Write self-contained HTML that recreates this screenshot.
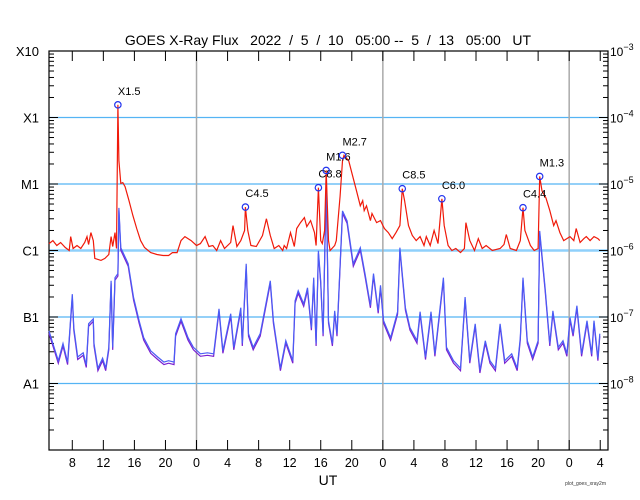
<!DOCTYPE html>
<html><head><meta charset="utf-8"><style>
body{margin:0;background:#fff;}
svg{display:block;font-family:"Liberation Sans",sans-serif;}
</style></head><body>
<svg id="chart" width="640" height="500" viewBox="0 0 640 500" xmlns="http://www.w3.org/2000/svg">
<text x="328" y="45" font-size="14" text-anchor="middle" fill="#000" xml:space="preserve">GOES X-Ray Flux   2022  /  5  /  10   05:00 --  5  /  13   05:00   UT</text>
<text x="328" y="485" font-size="14" text-anchor="middle">UT</text>
<text x="606" y="485" font-size="5" text-anchor="end" fill="#333">plot_goes_xray2m</text>
<g id="grid"></g><g id="axes"></g><g id="series"></g><g id="flares"></g>
</svg>
<script>
// hours since 2022-05-10 05:00 UT
const longT=[0,0.5,1.0,1.5,2.1,2.6,2.8,3.1,3.6,4.1,4.6,4.9,5.1,5.4,5.7,5.9,6.7,7.2,7.7,8.0,8.2,8.5,8.7,8.87,9.0,9.25,9.5,9.8,10.3,10.8,11.3,11.8,12.3,13.1,13.9,14.7,15.4,15.9,16.5,17.0,17.5,18.3,19.0,19.5,20.1,20.6,21.1,21.6,22.1,22.6,23.4,23.7,24.2,24.7,25.2,25.3,25.6,26.0,26.7,27.5,28.0,28.5,29.0,29.6,30.1,30.3,30.6,31.1,31.6,31.9,32.4,32.9,33.2,33.7,34.2,34.4,34.7,35.0,35.2,35.5,35.7,36.0,36.2,36.8,37.0,37.5,37.8,38.0,38.6,39.1,39.6,40.1,40.4,40.6,40.9,41.4,41.6,42.2,42.7,43.2,43.7,44.2,44.7,45.2,45.5,45.8,46.3,46.8,47.3,47.8,48.3,48.6,49.1,49.6,50.1,50.6,50.9,51.4,51.9,52.4,53.0,53.5,53.7,54.2,54.8,55.3,55.8,56.3,57.1,58.1,58.6,58.9,59.4,60.2,60.7,61.05,61.3,62.0,62.5,63.0,63.2,63.5,64.0,64.5,65.0,65.3,65.8,66.3,67.1,67.6,67.9,68.4,68.9,69.2,69.7,70.2,70.7,70.95];
// long channel (1-8 A) flux, W/m^2
const longFlux=[1.27e-6,1.41e-6,1.19e-6,1.32e-6,1.11e-6,1.0e-6,1.62e-6,1.07e-6,1.19e-6,1.07e-6,1.32e-6,1.62e-6,1.23e-6,1.86e-6,1.41e-6,0.76e-6,0.71e-6,0.76e-6,0.87e-6,1.62e-6,1.15e-6,1.86e-6,1.07e-6,1.55e-4,2.24e-5,1.02e-5,1.05e-5,9.1e-6,5.6e-6,3.35e-6,2.14e-6,1.41e-6,1.11e-6,0.93e-6,0.87e-6,0.84e-6,0.84e-6,0.93e-6,0.93e-6,1.41e-6,1.62e-6,1.41e-6,1.19e-6,1.27e-6,1.62e-6,1.15e-6,1.19e-6,1.0e-6,1.41e-6,1.07e-6,1.32e-6,2.37e-6,1.15e-6,1.41e-6,2.0e-6,4.5e-6,2.0e-6,1.19e-6,1.15e-6,1.68e-6,3.0e-6,1.68e-6,1.07e-6,1.19e-6,1.0e-6,1.19e-6,1.07e-6,1.86e-6,1.15e-6,2.14e-6,2.63e-6,3.12e-6,2.29e-6,2.82e-6,1.86e-6,1.19e-6,8.8e-6,1.41e-6,1.27e-6,2.0e-6,1.6e-5,1.41e-6,1.0e-6,1.19e-6,1.41e-6,6.6e-6,2.24e-5,2.7e-5,2.24e-5,1.33e-5,7.9e-6,4.7e-6,5.6e-6,3.98e-6,4.7e-6,2.82e-6,3.6e-6,2.63e-6,2.82e-6,2.14e-6,1.86e-6,1.51e-6,1.86e-6,2.37e-6,8.5e-6,5.6e-6,2.37e-6,1.68e-6,1.41e-6,1.62e-6,1.19e-6,1.62e-6,1.19e-6,2.0e-6,1.27e-6,6.0e-6,2.37e-6,1.19e-6,1.0e-6,1.07e-6,0.93e-6,1.07e-6,2.63e-6,1.41e-6,1.0e-6,1.51e-6,1.07e-6,1.19e-6,1.0e-6,1.07e-6,1.23e-6,1.74e-6,1.07e-6,1.0e-6,1.41e-6,4.4e-6,2.0e-6,1.19e-6,1.0e-6,1.07e-6,1.3e-5,7.9e-6,6.2e-6,3.98e-6,2.37e-6,2.82e-6,1.86e-6,1.41e-6,1.62e-6,1.41e-6,2.14e-6,1.32e-6,1.51e-6,1.62e-6,1.41e-6,1.62e-6,1.51e-6,1.41e-6];
const shortT=[0,0.5,1.2,1.8,2.4,3.0,3.2,3.7,4.4,4.8,5.1,5.7,5.8,6.3,6.9,7.3,7.7,8.0,8.2,8.5,8.87,9.0,9.25,10.2,10.9,11.6,12.2,13.1,14.0,14.8,15.4,16.1,16.3,17.0,17.9,18.6,19.5,20.4,21.2,21.9,22.4,23.4,23.8,24.7,24.9,25.4,25.7,26.3,27.2,28.5,28.9,29.8,30.5,31.4,31.7,32.1,32.8,33.3,33.8,34.1,34.4,34.7,35.0,35.3,35.7,36.0,36.5,36.8,37.1,37.8,38.4,39.2,40.1,40.7,41.4,41.8,42.4,42.7,43.1,44.0,44.9,45.2,45.9,46.5,47.4,47.8,48.5,49.2,49.7,50.8,51.2,52.1,53.0,53.6,54.2,54.9,55.5,56.2,56.8,57.5,58.1,58.7,59.6,60.3,60.7,61.05,61.6,62.3,63.0,63.2,63.9,64.5,64.9,65.6,66.2,66.7,67.1,67.5,68.0,68.6,69.3,69.9,70.2,70.7,70.95];
// short channel (0.5-4 A) flux, W/m^2
const shortFlux=[6.2e-8,4.0e-8,2.2e-8,4.0e-8,2.1e-8,2.2e-7,6.9e-8,2.5e-8,2.9e-8,1.9e-8,7.9e-8,9.4e-8,4.0e-8,1.7e-8,2.4e-8,1.7e-8,3.5e-8,3.5e-7,3.5e-8,3.9e-7,4.5e-7,4.37e-6,1.1e-6,6.3e-7,1.95e-7,8.8e-8,4.9e-8,3.1e-8,2.5e-8,2.1e-8,2.2e-8,2.1e-8,5.6e-8,9.4e-8,4.9e-8,3.5e-8,2.8e-8,2.9e-8,2.8e-8,1.33e-7,3.1e-8,1.12e-7,3.5e-8,1.38e-7,4.0e-8,6.3e-7,5.6e-8,3.5e-8,5.6e-8,3.5e-7,8.8e-8,1.7e-8,4.4e-8,2.2e-8,1.76e-7,2.48e-7,1.58e-7,2.75e-7,6.9e-8,3.9e-7,4.0e-8,9.9e-7,3.5e-7,5.6e-8,1.1e-5,8.8e-8,4.0e-8,1.24e-7,5.6e-8,3.94e-6,2.79e-6,6.3e-7,1.1e-6,4.5e-7,1.5e-7,4.5e-7,1.24e-7,3.0e-7,8.8e-8,4.9e-8,1.2e-7,1.1e-6,1.38e-7,6.9e-8,4.4e-8,1.2e-7,2.5e-8,1.2e-7,2.8e-8,3.9e-7,3.5e-8,2.2e-8,1.7e-8,2.0e-7,2.2e-8,7.9e-8,1.57e-8,4.4e-8,2.2e-8,1.7e-8,7.9e-8,2.2e-8,2.8e-8,1.7e-8,4.9e-8,3.9e-7,4.4e-8,2.5e-8,4.4e-8,1.97e-6,2.75e-7,4.0e-8,1.24e-7,3.5e-8,4.4e-8,2.8e-8,9.8e-8,5.6e-8,1.48e-7,2.8e-8,8.8e-8,2.8e-8,8.8e-8,2.4e-8,5.6e-8];
const flareT=[8.87,25.3,34.7,35.7,37.8,45.5,50.6,61.05,63.2];
const flareFlux=[1.55e-4,4.5e-6,8.8e-6,1.6e-5,2.7e-5,8.5e-6,6.0e-6,4.4e-6,1.3e-5];
const flareLabels=["X1.5","C4.5","C8.8","M1.6","M2.7","C8.5","C6.0","C4.4","M1.3"];
const classLabels=["X10","X1","M1","C1","B1","A1"];
const xTickHours=[3,7,11,15,19,23,27,31,35,39,43,47,51,55,59,63,67,71];
const xTickLabels=["8","12","16","20","0","4","8","12","16","20","0","4","8","12","16","20","0","4"];

const NS="http://www.w3.org/2000/svg";
const L=49,R=608,T=51,B=450,H0=0,H1=72;
const x=h=>L+(h-H0)/(H1-H0)*(R-L);
const y=f=>T+(-3-Math.log10(f))/6*(B-T);
function mk(tag,attrs,parent){const e=document.createElementNS(NS,tag);for(const k in attrs)e.setAttribute(k,attrs[k]);parent.appendChild(e);return e;}
const grid=document.getElementById('grid'),axes=document.getElementById('axes'),ser=document.getElementById('series'),fl=document.getElementById('flares');

[1e-4,1e-5,1e-6,1e-7,1e-8].forEach((f,i)=>{
  const l=mk('line',{x1:L,x2:R,y1:y(f),y2:y(f),stroke:f===1e-6?'#8fd0fb':'#55b4f4','stroke-width':f===1e-6?2.5:1.2},grid);
  
  
});
[19,43,67].forEach(h=>{
  const l=mk('line',{x1:x(h),x2:x(h),y1:T,y2:B,stroke:'#aaa','stroke-width':1.5},grid);
  
  
});
const fr=mk('rect',{x:L,y:T,width:R-L,height:B-T,fill:'none',stroke:'#000','stroke-width':1.2},axes);


for(let e=-9;e<-3;e++){for(let m=1;m<10;m++){const yy=y(m*Math.pow(10,e));const len=m===1?9:5;
  mk('line',{x1:L,x2:L+len,y1:yy,y2:yy,stroke:'#000','stroke-width':1},axes);
  mk('line',{x1:R,x2:R-len,y1:yy,y2:yy,stroke:'#000','stroke-width':1},axes);}}
classLabels.forEach((c,i)=>{
  const t=mk('text',{x:39,y:y(Math.pow(10,-3-i))+5,'font-size':13,'text-anchor':'end'},axes);t.textContent=c;
  
  
});
for(let i=0;i<=5;i++){
  const t=mk('text',{x:610,y:y(Math.pow(10,-3-i))+5,'font-size':12},axes);
  
  
  t.appendChild(document.createTextNode('10'));
  const s=mk('tspan',{dy:-6,'font-size':9},t);s.textContent='−'+(3+i);
}
xTickHours.forEach((h,i)=>{
  const xx=x(h);
  mk('line',{x1:xx,x2:xx,y1:B,y2:B-10,stroke:'#000','stroke-width':1},axes);
  mk('line',{x1:xx,x2:xx,y1:T,y2:T+10,stroke:'#000','stroke-width':1},axes);
  const t=mk('text',{x:xx,y:467,'font-size':12.5,'text-anchor':'middle'},axes);t.textContent=xTickLabels[i];
  
  
});
function path(T_,F){return T_.map((h,i)=>(i?'L':'M')+x(h).toFixed(1)+','+y(F[i]).toFixed(1)).join('');}
const sp=path(shortT,shortFlux);
const p1=mk('path',{d:sp,fill:'none',stroke:'#7a1fd0','stroke-width':1.2,transform:'translate(0,2.5)'},ser);


const p2=mk('path',{d:sp,fill:'none',stroke:'#4a5cf5','stroke-width':1.2},ser);


const p3=mk('path',{d:path(longT,longFlux),fill:'none',stroke:'#f01a0a','stroke-width':1.2},ser);


flareT.forEach((h,i)=>{
  const cx=x(h),cy=y(flareFlux[i]);
  const c=mk('circle',{cx:cx,cy:cy,r:3.2,fill:'none',stroke:'#2233ee','stroke-width':1.2},fl);
  
  
  const t=mk('text',{x:cx,y:cy-10,'font-size':11},fl);t.textContent=flareLabels[i];
  
  
});
</script>
</body></html>
